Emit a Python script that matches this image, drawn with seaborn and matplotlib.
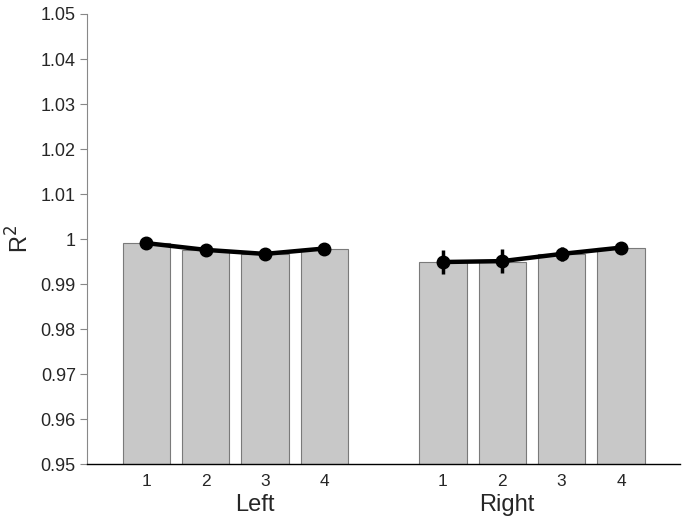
import matplotlib
matplotlib.use("Agg")
import matplotlib.pyplot as plt
import seaborn as sns
import pandas as pd
import numpy as np

sns.set_style("white")
plt.rcParams['font.family'] = ['Liberation Sans', 'DejaVu Sans']

groups = ["Left", "Right"]
conditions = ["1", "2", "3", "4"]
bar_left = [0.9992, 0.9976, 0.9967, 0.9979]
bar_right = [0.9948, 0.9950, 0.9967, 0.9980]
line_left = [0.9991, 0.9976, 0.9967, 0.9979]
line_right = [0.9949, 0.9951, 0.9967, 0.9981]
err_left = [0.0002, 0.0002, 0.0002, 0.0002]
err_right = [0.0026, 0.0027, 0.0015, 0.0004]

pos_left = [1, 2, 3, 4]
pos_right = [6, 7, 8, 9]

df = pd.DataFrame({
    "pos": pos_left + pos_right,
    "r2": bar_left + bar_right,
})

fig = plt.figure(figsize=(6.9, 5.18), dpi=100)
ax = fig.add_axes([0.126, 0.104, 0.86, 0.869])

sns.barplot(data=df, x="pos", y="r2", native_scale=True, width=0.8,
            color="#c8c8c8", edgecolor="#7a7a7a", linewidth=0.8,
            saturation=1, errorbar=None, ax=ax)

for p, v, e in [(pos_left, line_left, err_left), (pos_right, line_right, err_right)]:
    ax.errorbar(p, v, yerr=e, color="black", lw=3.2, marker="o", ms=9,
                elinewidth=2.5, capsize=0, zorder=5)

ax.set_ylim(0.95, 1.05)
ax.set_xlim(0, 10)
ax.set_yticks(np.arange(0.95, 1.0501, 0.01))
ax.set_yticklabels(["0.95", "0.96", "0.97", "0.98", "0.99", "1",
                    "1.01", "1.02", "1.03", "1.04", "1.05"], fontsize=13)
ax.set_xticks(pos_left + pos_right)
ax.set_xticklabels(conditions + conditions, fontsize=12.5)
ax.tick_params(axis="x", length=0, pad=7)
ax.tick_params(axis="y", length=5, width=0.8, color="#888888", direction="out", left=True, pad=3)
ax.set_xlabel("")
ax.set_ylabel("R$^2$", fontsize=17, labelpad=5)

for sp in ["top", "right"]:
    ax.spines[sp].set_visible(False)
ax.spines["left"].set_color("#888888")
ax.spines["left"].set_linewidth(0.8)
ax.spines["bottom"].set_color("black")
ax.spines["bottom"].set_linewidth(1.0)

ax.text(2.83, -0.09, groups[0], transform=ax.get_xaxis_transform(),
        ha="center", va="center", fontsize=17)
ax.text(7.08, -0.09, groups[1], transform=ax.get_xaxis_transform(),
        ha="center", va="center", fontsize=17)

fig.savefig("out.png", dpi=100)
